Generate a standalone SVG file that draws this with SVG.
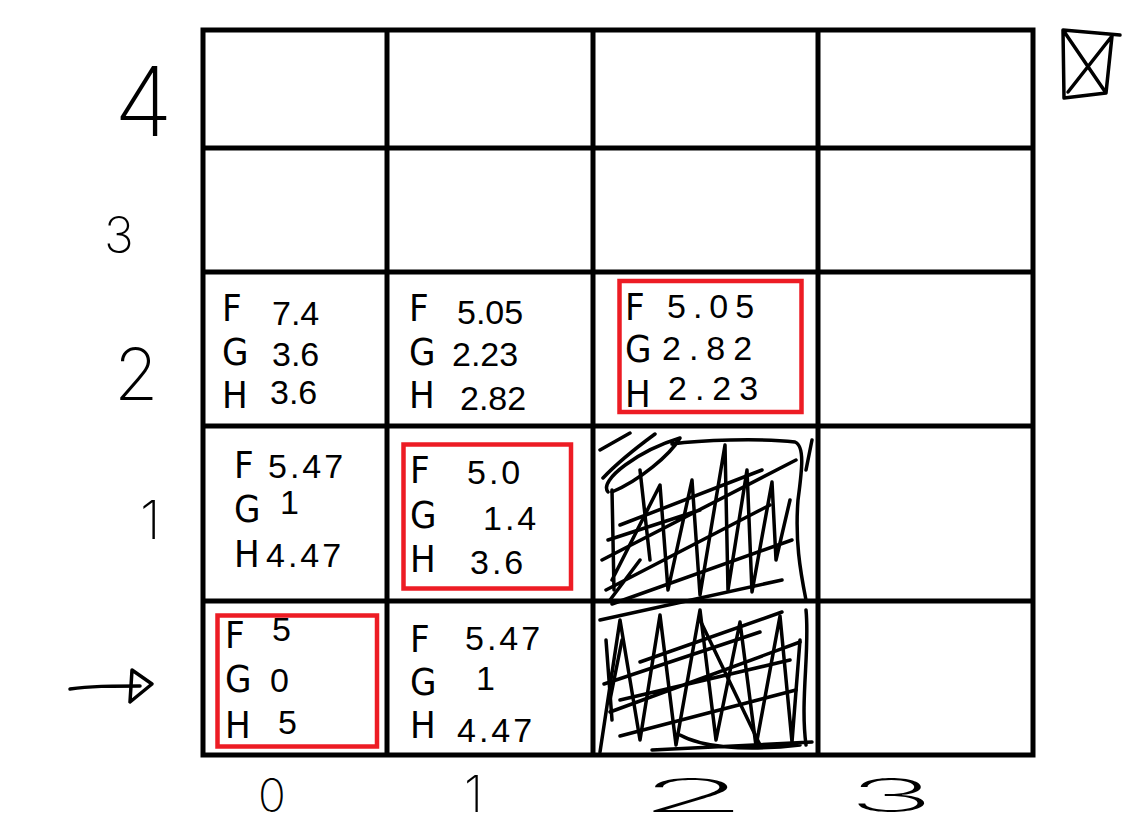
<svg xmlns="http://www.w3.org/2000/svg" width="1146" height="824" viewBox="0 0 1146 824">
<style>
.grid{fill:none;stroke:#000;stroke-width:5}
.sel{fill:none;stroke:#ed1c24;stroke-width:4.5}
.lab{font-family:"DejaVu Sans Condensed","DejaVu Sans",sans-serif;font-stretch:condensed;font-size:38px;fill:#000}
.num{font-family:"Liberation Sans",Arial,sans-serif;font-size:34px;fill:#000}
.ax{font-family:Inter,Roboto,"Liberation Sans",sans-serif;font-weight:200;fill:#000}
.ink{fill:none;stroke:#000;stroke-width:3.5;stroke-linecap:round;stroke-linejoin:round}
</style>
<rect width="1146" height="824" fill="#fff"/>
<g id="grid">
<rect class="grid" x="203" y="30" width="830" height="725"/>
<line class="grid" x1="387" y1="30" x2="387" y2="755"/>
<line class="grid" x1="593" y1="30" x2="593" y2="755"/>
<line class="grid" x1="818" y1="30" x2="818" y2="755"/>
<line class="grid" x1="203" y1="148" x2="1033" y2="148"/>
<line class="grid" x1="203" y1="272" x2="1033" y2="272"/>
<line class="grid" x1="203" y1="426" x2="1033" y2="426"/>
<line class="grid" x1="203" y1="601" x2="1033" y2="601"/>
</g>
<g id="cell-0-2">
<text class="lab" x="222" y="321">F</text><text class="num" x="272" y="325">7.4</text>
<text class="lab" x="222" y="365">G</text><text class="num" x="272" y="366">3.6</text>
<text class="lab" x="222" y="408">H</text><text class="num" x="270" y="404">3.6</text>
</g>
<g id="cell-1-2">
<text class="lab" x="409" y="321">F</text><text class="num" x="457" y="324">5.05</text>
<text class="lab" x="409" y="365">G</text><text class="num" x="452" y="366">2.23</text>
<text class="lab" x="409" y="408">H</text><text class="num" x="460" y="410">2.82</text>
</g>
<g id="cell-2-2">
<rect class="sel" x="619.5" y="281" width="182" height="131"/>
<text class="lab" x="625" y="320">F</text><text class="num" x="667" y="318" letter-spacing="7">5.05</text>
<text class="lab" x="625" y="362">G</text><text class="num" x="662" y="360" letter-spacing="8">2.82</text>
<text class="lab" x="625" y="407">H</text><text class="num" x="668" y="400" letter-spacing="8">2.23</text>
</g>
<g id="cell-0-1">
<text class="lab" x="234" y="478">F</text><text class="num" x="268" y="478" letter-spacing="3">5.47</text>
<text class="lab" x="234" y="522">G</text><text class="num" x="280" y="514">1</text>
<text class="lab" x="234" y="567">H</text><text class="num" x="266" y="567" letter-spacing="3">4.47</text>
</g>
<g id="cell-1-1">
<rect class="sel" x="403.5" y="444.5" width="167.5" height="144"/>
<text class="lab" x="410" y="483">F</text><text class="num" x="467" y="484" letter-spacing="3">5.0</text>
<text class="lab" x="410" y="528">G</text><text class="num" x="483" y="530" letter-spacing="3">1.4</text>
<text class="lab" x="410" y="572">H</text><text class="num" x="470" y="574" letter-spacing="3">3.6</text>
</g>
<g id="cell-0-0">
<rect class="sel" x="217.5" y="615.5" width="159.5" height="131"/>
<text class="lab" x="225" y="648">F</text><text class="num" x="272" y="641">5</text>
<text class="lab" x="225" y="692">G</text><text class="num" x="270" y="692">0</text>
<text class="lab" x="225" y="738">H</text><text class="num" x="278" y="734">5</text>
</g>
<g id="cell-1-0">
<text class="lab" x="410" y="652">F</text><text class="num" x="465" y="650" letter-spacing="3">5.47</text>
<text class="lab" x="410" y="695">G</text><text class="num" x="476" y="690">1</text>
<text class="lab" x="410" y="738">H</text><text class="num" x="457" y="742" letter-spacing="3">4.47</text>
</g>
<g id="blocked">
<path class="ink" d="M600 450 L630 433 M603 478 C620 460 640 445 655 434 M608 492 C598 480 640 450 680 438 C670 455 640 480 612 492 M672 444 C700 440 760 438 795 442 C805 446 802 470 798 500 C795 540 800 570 806 600 M812 440 L806 470"/>
<path class="ink" d="M612 490 L614 590 M612 580 L660 485 L668 590 L692 480 L700 595 L725 445 L728 590 L747 470 L752 592 L772 482 L776 560 L790 500"/>
<path class="ink" d="M602 560 L796 460 M606 590 L770 505 M612 604 L792 540 M620 525 L762 470 M600 620 L782 580 M608 540 L700 510 M640 470 L650 560 M610 600 L640 560"/>
<path class="ink" d="M600 752 L620 620 L640 740 L660 615 L676 745 L700 610 L716 740 L740 622 L756 746 L780 616 L792 742 L800 640 M606 640 L612 720"/>
<path class="ink" d="M610 712 L800 642 M620 736 L796 690 M640 662 L782 612 M604 684 L760 632 M652 750 L812 742 M680 735 C700 746 740 752 800 745 M806 610 C810 650 800 700 806 745 M622 640 L610 700 M620 700 L790 660 M700 620 L760 745"/>
</g>
<g id="legend">
<path class="ink" d="M1063 30 L1120 35 M1112 36 L1106 93 L1064 98 L1063 30 L1106 93 M1112 36 L1068 92"/>
</g>
<g id="axis-y">
<text class="ax" x="114" y="136" font-size="96">4</text>
<text class="ax" x="104" y="253" font-size="50">3</text>
<text class="ax" x="114" y="400" font-size="72">2</text>
<text class="ax" x="140" y="539" font-size="54">1</text>
</g>
<g id="axis-x">
<text class="ax" x="258" y="812" font-size="46">0</text>
<text class="ax" x="464" y="812" font-size="50">1</text>
<text class="ax" x="638" y="812" font-size="46" textLength="110" lengthAdjust="spacingAndGlyphs">2</text>
<text class="ax" x="848" y="812" font-size="46" textLength="86" lengthAdjust="spacingAndGlyphs">3</text>
</g>
<g id="connectors">
<path class="ink" d="M70 689 C90 686 110 686 140 686"/>
<path class="ink" d="M132 670 L152 684 L130 702 Z"/>
</g>
</svg>
